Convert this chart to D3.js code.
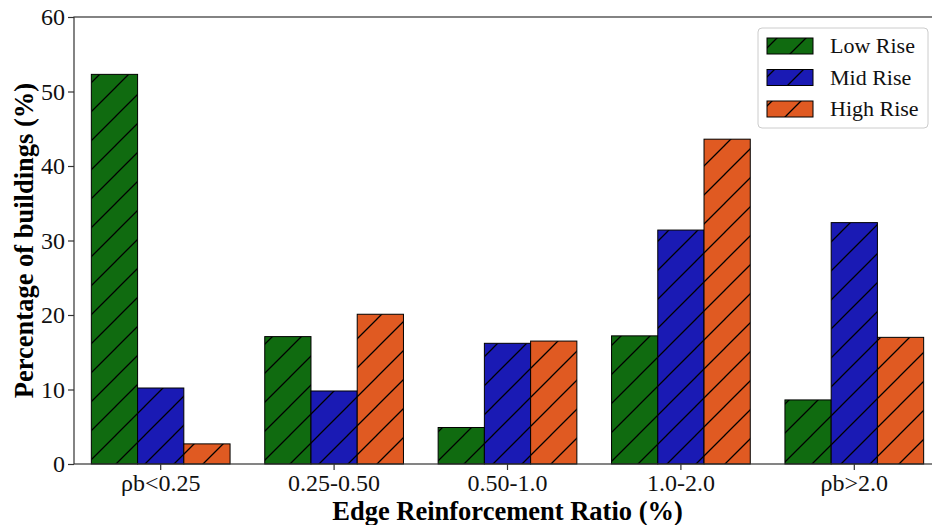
<script src='https://cdnjs.cloudflare.com/ajax/libs/d3/7.8.5/d3.min.js'></script>
<style>
  body {margin:0; background:#fff;}
  svg {display:block;}
  svg text {font-family:'Liberation Serif','Times New Roman',Times,'DejaVu Serif',serif;}
</style>
<svg id='chart' width='932' height='525'></svg>
<script>
const categories=['\u03c1b<0.25','0.25-0.50','0.50-1.0','1.0-2.0','\u03c1b>2.0'];
const seriesNames=['Low Rise','Mid Rise','High Rise'];
const lowRise=[52.3,17.1,4.9,17.2,8.6];
const midRise=[10.2,9.8,16.2,31.4,32.4];
const highRise=[2.7,20.1,16.5,43.6,17.0];
const yTicks=[0,10,20,30,40,50,60];
const colors=['#106b10','#1a1ab4','#e05a22'];

const series=[lowRise,midRise,highRise];
var pl=74,pr=941,pt=17,pb=464;
var svg=d3.select('#chart');

var x=d3.scaleBand().domain(categories).range([pl,pr]).paddingInner(0.2).paddingOuter(0.1);
var xs=d3.scaleBand().domain(seriesNames).range([0,x.bandwidth()]);
var y=d3.scaleLinear().domain([0,60]).range([pb,pt]);

var defs=svg.append('defs');
colors.forEach(function(c,i) {
    var p=defs.append('pattern').attr('id','hatch'+i)
        .attr('patternUnits','userSpaceOnUse').attr('width',29).attr('height',29);
    p.append('rect').attr('width',29).attr('height',29).attr('fill',c);
    p.append('path').attr('d','M-1,30L30,-1M-15,15L15,-15M14,44L44,14')
        .attr('stroke','#000').attr('stroke-width',1.3);
});

var groups=svg.append('g').selectAll('g').data(series).join('g');
groups.selectAll('rect').data(function(s,i) {
        return s.map(function(v,j) {return {v:v,cat:categories[j],i:i};}); })
    .join('rect')
    .attr('x',function(d) {return x(d.cat)+xs(seriesNames[d.i]);})
    .attr('y',function(d) {return y(d.v);})
    .attr('width',xs.bandwidth())
    .attr('height',function(d) {return y(0)-y(d.v);})
    .attr('fill',function(d) {return 'url(#hatch'+d.i+')';})
    .attr('stroke','#000').attr('stroke-width',1);

// axes
var ya=svg.append('g').attr('transform','translate('+pl+',0)')
    .call(d3.axisLeft(y).tickValues(yTicks).tickSize(6).tickPadding(3));
var xa=svg.append('g').attr('transform','translate(0,'+pb+')')
    .call(d3.axisBottom(x).tickSize(6).tickPadding(4));
[ya,xa].forEach(function(a) {
    a.attr('font-family',null);
    a.select('.domain').remove();
    a.selectAll('line').attr('stroke','#333').attr('stroke-width',1.2);
    a.selectAll('text').attr('font-size',24).attr('fill','#111');
});
svg.append('rect').attr('x',pl).attr('y',pt)
    .attr('width',pr-pl).attr('height',pb-pt)
    .attr('fill','none').attr('stroke','#333').attr('stroke-width',1.2);

svg.append('text').attr('x',(pl+pr)/2).attr('y',520)
    .attr('text-anchor','middle').attr('font-weight','bold').attr('font-size',26.5)
    .text('Edge Reinforcement Ratio (%)');
svg.append('text').attr('transform','translate(33,'+(pt+pb)/2+') rotate(-90)')
    .attr('text-anchor','middle').attr('font-weight','bold').attr('font-size',26.5)
    .text('Percentage of buildings (%)');

// legend
var lg=svg.append('g').attr('transform','translate(758,28)');
lg.append('rect').attr('width',170).attr('height',100).attr('rx',4)
    .attr('fill','#fff').attr('stroke','#ccc').attr('stroke-width',1);
seriesNames.forEach(function(n,i) {
    lg.append('rect').attr('x',9).attr('y',10+i*31.5).attr('width',46).attr('height',16)
      .attr('fill','url(#hatch'+i+')').attr('stroke','#000').attr('stroke-width',1);
    lg.append('text').attr('x',72).attr('y',25+i*31.5).attr('font-size',22).attr('fill','#111').text(n);
});
</script>
